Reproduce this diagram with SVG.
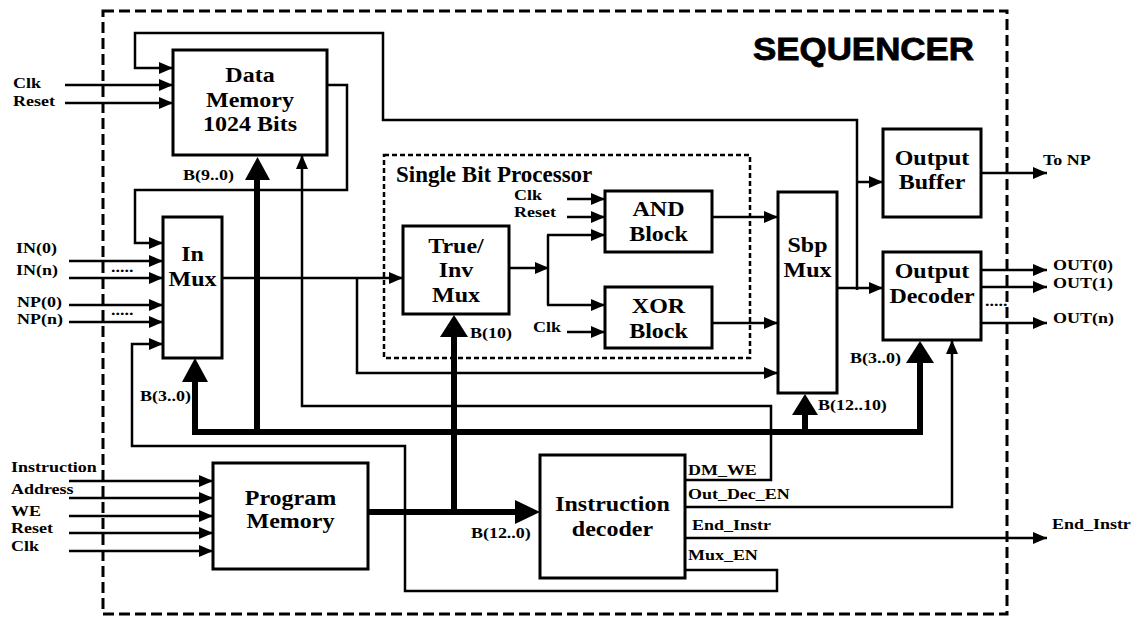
<svg xmlns="http://www.w3.org/2000/svg" width="1143" height="617" viewBox="0 0 1143 617">
<style>
text{font-family:"Liberation Serif","Times New Roman",serif;font-weight:bold;fill:#000}
.bt{font-size:20px;text-anchor:middle}
.lb{font-size:15.5px}
.box{fill:#fff;stroke:#000;stroke-width:3}
.thin{fill:none;stroke:#000;stroke-width:2.5}
.arr{marker-end:url(#a)}
.thick{fill:none;stroke:#000;stroke-width:6}
.ah{fill:#000}
</style>
<defs>
<marker id="a" markerUnits="userSpaceOnUse" markerWidth="14" markerHeight="12" refX="14" refY="6" orient="auto" viewBox="0 0 14 12">
<path d="M0,0 L14,6 L0,12 z" fill="#000"/>
</marker>
</defs>
<rect x="103" y="11" width="904" height="603" fill="none" stroke="#000" stroke-width="3" stroke-dasharray="11,5"/>
<text x="753" y="60" textLength="221" lengthAdjust="spacingAndGlyphs" style="font-family:'Liberation Sans',Arial,sans-serif;font-size:31px;stroke:#000;stroke-width:0.8">SEQUENCER</text>
<g id="sbp">
<rect x="384" y="155" width="366" height="203" fill="none" stroke="#000" stroke-width="2.5" stroke-dasharray="5,3"/>
<text x="396" y="182" style="font-size:23px">Single Bit Processor</text>
</g>
<g id="connectors">
<path class="thin arr" d="M65,85 H173"/>
<path class="thin arr" d="M65,103 H173"/>
<path class="thin arr" d="M857,290 V120 H383 V33 H135 V68 H173"/>
<path class="thin arr" d="M857,182 H883"/>
<path class="thin arr" d="M837,288 H883"/>
<path class="thin arr" d="M327,85 H347 V190 H135 V243 H163"/>
<path class="thin arr" d="M69,261 H163"/>
<path class="thin arr" d="M69,278 H163"/>
<path class="thin arr" d="M69,305 H163"/>
<path class="thin arr" d="M69,322 H163"/>
<path class="thin arr" d="M685,570 H777 V591 H405 V446 H132 V344 H163"/>
<path class="thin arr" d="M222,278 H403"/>
<path class="thin arr" d="M357,278 V373 H778"/>
<path class="thin arr" d="M509,268 H549"/>
<path class="thin" d="M548,235 V305"/>
<path class="thin arr" d="M547,235 H605"/>
<path class="thin arr" d="M547,305 H605"/>
<path class="thin arr" d="M567,199 H605"/>
<path class="thin arr" d="M567,217 H605"/>
<path class="thin arr" d="M567,332 H605"/>
<path class="thin arr" d="M712,217 H778"/>
<path class="thin arr" d="M712,323 H778"/>
<path class="thin arr" d="M685,480 H771 V406 H302 V155"/>
<path class="thin arr" d="M685,507 H952 V340"/>
<path class="thin arr" d="M685,538 H1047"/>
<path class="thin arr" d="M981,173 H1047"/>
<path class="thin arr" d="M981,270 H1047"/>
<path class="thin arr" d="M981,287 H1047"/>
<path class="thin arr" d="M981,323 H1047"/>
<path class="thin arr" d="M69,481 H213"/>
<path class="thin arr" d="M69,498 H213"/>
<path class="thin arr" d="M69,516 H213"/>
<path class="thin arr" d="M69,533 H213"/>
<path class="thin arr" d="M69,551 H213"/>
<path class="thick" d="M195,380 V432 H920 V361"/>
<path class="thick" d="M257,432 V178"/>
<path class="thick" d="M805,432 V413"/>
<path class="thick" d="M368,512 H517"/>
<path class="thick" d="M454,512 V335"/>
<polygon class="ah" points="182,382 208,382 195,358"/>
<polygon class="ah" points="245,180 270,180 257.5,157"/>
<polygon class="ah" points="792,415 818,415 805,394"/>
<polygon class="ah" points="515,500 515,524 540,512"/>
<polygon class="ah" points="440,337 468,337 454,315"/>
<polygon class="ah" points="906,363 934,363 920,341"/>
</g>
<g id="data-memory">
<rect class="box" x="173" y="50" width="154" height="105"/>
<g transform="scale(1.2,1)">
<text class="bt" x="208.33" y="82">Data</text>
<text class="bt" x="208.33" y="107">Memory</text>
<text class="bt" x="208.33" y="131">1024 Bits</text>
</g>
</g>
<g id="in-mux">
<rect class="box" x="163" y="217" width="59" height="141"/>
<g transform="scale(1.2,1)">
<text class="bt" x="160.42" y="261">In</text>
<text class="bt" x="160.42" y="286">Mux</text>
</g>
</g>
<g id="true-inv-mux">
<rect class="box" x="403" y="226" width="106" height="88"/>
<g transform="scale(1.2,1)">
<text class="bt" x="380" y="253">True/</text>
<text class="bt" x="380" y="277">Inv</text>
<text class="bt" x="380" y="302">Mux</text>
</g>
</g>
<g id="and-block">
<rect class="box" x="605" y="191" width="107" height="61"/>
<g transform="scale(1.2,1)">
<text class="bt" x="548.75" y="216">AND</text>
<text class="bt" x="548.75" y="241">Block</text>
</g>
</g>
<g id="xor-block">
<rect class="box" x="605" y="287" width="107" height="61"/>
<g transform="scale(1.2,1)">
<text class="bt" x="548.75" y="313">XOR</text>
<text class="bt" x="548.75" y="338">Block</text>
</g>
</g>
<g id="sbp-mux">
<rect class="box" x="778" y="192" width="59" height="201"/>
<g transform="scale(1.2,1)">
<text class="bt" x="672.92" y="252">Sbp</text>
<text class="bt" x="672.92" y="277">Mux</text>
</g>
</g>
<g id="output-buffer">
<rect class="box" x="883" y="129" width="98" height="88"/>
<g transform="scale(1.2,1)">
<text class="bt" x="776.67" y="165">Output</text>
<text class="bt" x="776.67" y="189">Buffer</text>
</g>
</g>
<g id="output-decoder">
<rect class="box" x="883" y="252" width="98" height="88"/>
<g transform="scale(1.2,1)">
<text class="bt" x="776.67" y="278">Output</text>
<text class="bt" x="776.67" y="303">Decoder</text>
</g>
</g>
<g id="program-memory">
<rect class="box" x="213" y="463" width="155" height="106"/>
<g transform="scale(1.2,1)">
<text class="bt" x="242.08" y="505">Program</text>
<text class="bt" x="242.08" y="528">Memory</text>
</g>
</g>
<g id="instruction-decoder">
<rect class="box" x="540" y="455" width="145" height="123"/>
<g transform="scale(1.2,1)">
<text class="bt" x="510.42" y="511">Instruction</text>
<text class="bt" x="510.42" y="536">decoder</text>
</g>
</g>
<g id="labels" transform="scale(1.16,1)">
<text class="lb" x="11.2" y="88">Clk</text>
<text class="lb" x="11.2" y="106">Reset</text>
<text class="lb" x="13.8" y="253">IN(0)</text>
<text class="lb" x="13.8" y="275">IN(n)</text>
<text class="lb" x="14.7" y="307">NP(0)</text>
<text class="lb" x="14.7" y="324">NP(n)</text>
<text class="lb" x="95.7" y="272">.....</text>
<text class="lb" x="95.7" y="315">.....</text>
<text class="lb" x="9.5" y="472">Instruction</text>
<text class="lb" x="9.5" y="494">Address</text>
<text class="lb" x="9.5" y="516">WE</text>
<text class="lb" x="9.5" y="533">Reset</text>
<text class="lb" x="9.5" y="551">Clk</text>
<text class="lb" x="157.8" y="180">B(9..0)</text>
<text class="lb" x="120.7" y="401">B(3..0)</text>
<text class="lb" x="405.2" y="338">B(10)</text>
<text class="lb" x="406" y="538">B(12..0)</text>
<text class="lb" x="705.2" y="410">B(12..10)</text>
<text class="lb" x="732.8" y="363">B(3..0)</text>
<text class="lb" x="443.1" y="200">Clk</text>
<text class="lb" x="443.1" y="217">Reset</text>
<text class="lb" x="459.5" y="332">Clk</text>
<text class="lb" x="899.1" y="165">To NP</text>
<text class="lb" x="907.8" y="270">OUT(0)</text>
<text class="lb" x="907.8" y="288">OUT(1)</text>
<text class="lb" x="907.8" y="323">OUT(n)</text>
<text class="lb" x="849.1" y="306">.....</text>
<text class="lb" x="593.1" y="475">DM_WE</text>
<text class="lb" x="593.1" y="499">Out_Dec_EN</text>
<text class="lb" x="596.6" y="530">End_Instr</text>
<text class="lb" x="593.1" y="560">Mux_EN</text>
<text class="lb" x="906.9" y="529">End_Instr</text>
</g>
</svg>
